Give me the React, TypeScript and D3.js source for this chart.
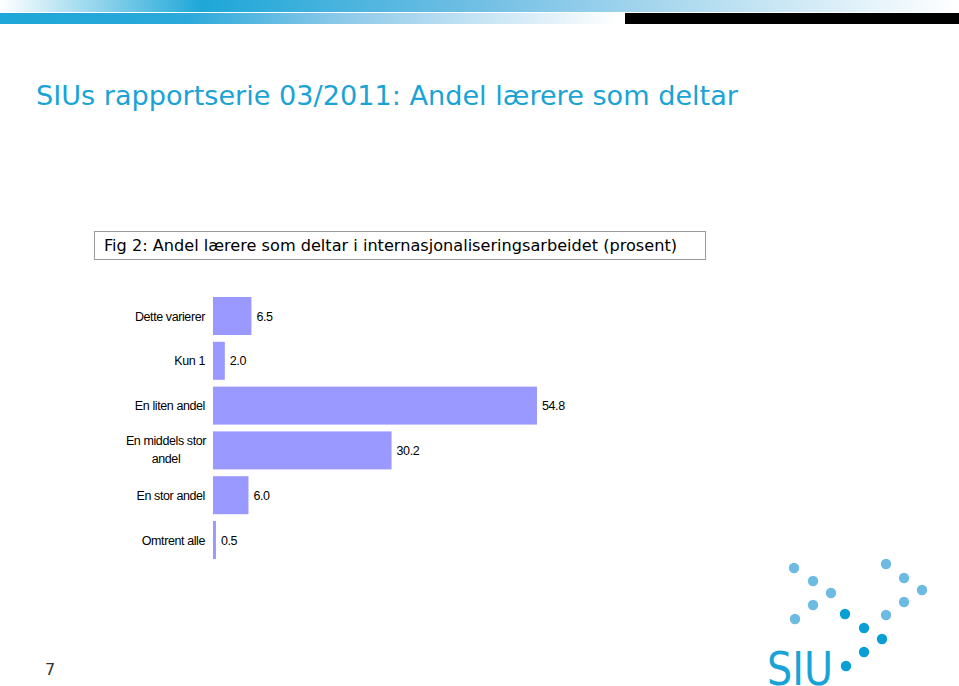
import React from "react";
import * as d3 from "d3";

const categories = ["Dette varierer", "Kun 1", "En liten andel", "En middels stor andel", "En stor andel", "Omtrent alle"];
const values = [6.5, 2.0, 54.8, 30.2, 6.0, 0.5];
const valueLabels = ["6.5", "2.0", "54.8", "30.2", "6.0", "0.5"];
const labelLines = [["Dette varierer"], ["Kun 1"], ["En liten andel"], ["En middels stor", "andel"], ["En stor andel"], ["Omtrent alle"]];

const lightDots: [number, number][] = [
  [794, 568], [813, 581], [831, 593], [813, 605], [795, 619],
  [886, 564], [904, 578], [922, 590], [904, 602], [886, 615],
];
const darkDots: [number, number][] = [
  [845, 614], [864, 628], [882, 639], [864, 652], [846, 666],
];

export default function App() {
  const x = d3.scaleLinear().domain([0, 60]).range([213, 213 + 60 * 5.912]);
  const y = d3.scaleBand<string>().domain(categories).range([293.6, 562.4]).paddingInner(0.152).paddingOuter(0.076);
  const labelFont = "'Liberation Sans', Arial, sans-serif";
  return (
    <svg width={959} height={686} style={{ position: "absolute", left: 0, top: 0, background: "#fff" }}>
      <defs>
        <linearGradient id="g1" x1="0" x2="1" y1="0" y2="0">
          <stop offset="0" stopColor="#ffffff" />
          <stop offset="0.21" stopColor="#1ea7d8" />
          <stop offset="0.5" stopColor="#72bfe4" />
          <stop offset="1" stopColor="#ffffff" />
        </linearGradient>
        <linearGradient id="g2" x1="0" x2="1" y1="0" y2="0">
          <stop offset="0" stopColor="#1ea7d8" />
          <stop offset="0.3" stopColor="#2aa9da" />
          <stop offset="0.55" stopColor="#8cc9e9" />
          <stop offset="1" stopColor="#ffffff" />
        </linearGradient>
      </defs>
      <rect x={0} y={0} width={959} height={12} fill="url(#g1)" />
      <rect x={0} y={13} width={620} height={11} fill="url(#g2)" />
      <rect x={625} y={13} width={334} height={11} fill="#000" />

      <text x={36} y={105} fontFamily="'DejaVu Sans', Verdana, sans-serif" fontSize={27} fill="#1aa3d6" textLength={702} lengthAdjust="spacingAndGlyphs">
        SIUs rapportserie 03/2011: Andel lærere som deltar
      </text>

      <rect x={94.5} y={231.5} width={611} height={28} fill="#fff" stroke="#9a9a9a" strokeWidth={1} />
      <text x={104} y={251} fontFamily="'DejaVu Sans', Verdana, sans-serif" fontSize={16} fill="#000" textLength={573} lengthAdjust="spacingAndGlyphs">
        Fig 2: Andel lærere som deltar i internasjonaliseringsarbeidet (prosent)
      </text>

      {categories.map((c, i) => {
        const yb = y(c)!;
        const cy = yb + y.bandwidth() / 2;
        const lines = labelLines[i];
        return (
          <g key={c}>
            <rect x={x(0)} y={yb} width={x(values[i]) - x(0)} height={y.bandwidth()} fill="#9999ff" />
            <text x={x(values[i]) + 5} y={cy + 4.5} fontFamily={labelFont} fontSize={12.5} letterSpacing={-0.4} fill="#000">
              {valueLabels[i]}
            </text>
            {lines.length === 1 ? (
              <text x={205} y={cy + 4.5} textAnchor="end" fontFamily={labelFont} fontSize={12.5} letterSpacing={-0.4} fill="#000">
                {lines[0]}
              </text>
            ) : (
              lines.map((l, k) => (
                <text key={k} x={166} y={cy - 5 + k * 18} textAnchor="middle" fontFamily={labelFont} fontSize={12.5} letterSpacing={-0.4} fill="#000">
                  {l}
                </text>
              ))
            )}
          </g>
        );
      })}

      <text x={45} y={675} fontFamily="'DejaVu Sans', Verdana, sans-serif" fontSize={16} fill="#333">7</text>

      {lightDots.map(([cx, cy], i) => (
        <circle key={"l" + i} cx={cx} cy={cy} r={5.2} fill="#6dbbe2" />
      ))}
      {darkDots.map(([cx, cy], i) => (
        <circle key={"d" + i} cx={cx} cy={cy} r={5.2} fill="#0a9fd4" />
      ))}
      <text x={767} y={685} fontFamily="'DejaVu Sans', Verdana, sans-serif" fontSize={47} fill="#1aa3d6" textLength={66} lengthAdjust="spacingAndGlyphs">
        SIU
      </text>
    </svg>
  );
}
